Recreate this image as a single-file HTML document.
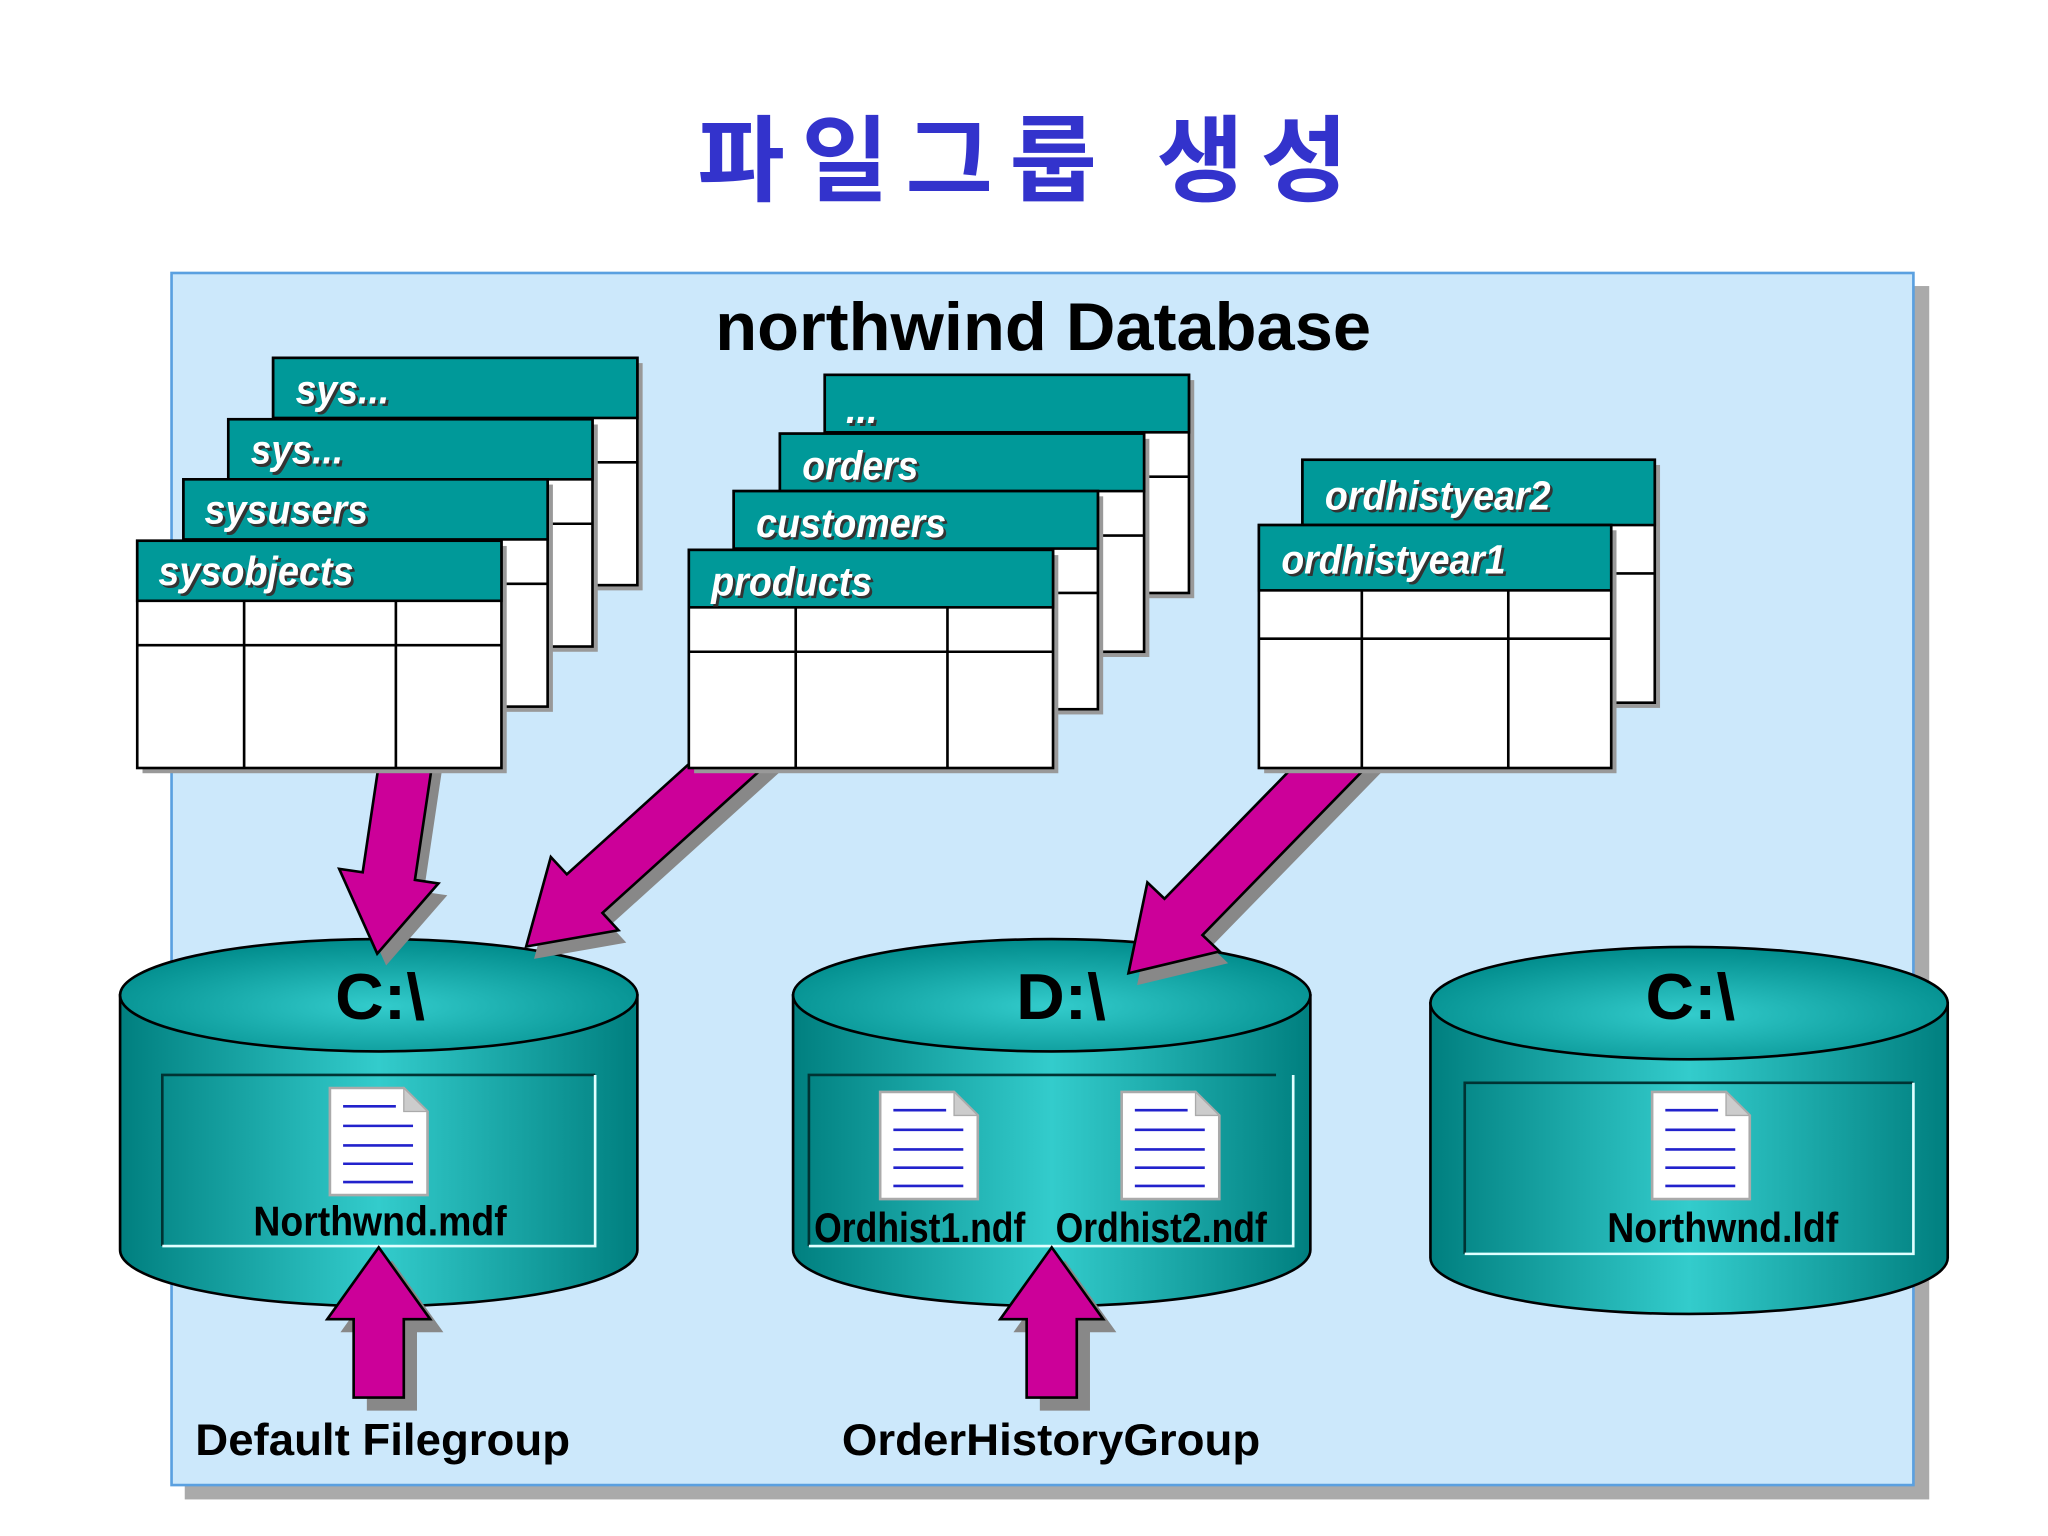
<!DOCTYPE html>
<html><head><meta charset="utf-8"><style>html,body{margin:0;padding:0;background:#fff}svg{display:block}</style></head>
<body>
<svg width="2048" height="1536" viewBox="0 0 1552 1176" preserveAspectRatio="none" xmlns="http://www.w3.org/2000/svg">
<defs>
<linearGradient id="cyl" x1="0" x2="1" y1="0" y2="0">
<stop offset="0" stop-color="#007f7f"/><stop offset="0.5" stop-color="#33cccc"/><stop offset="1" stop-color="#007f7f"/>
</linearGradient>
<radialGradient id="top" cx="0.5" cy="0.6" r="0.6">
<stop offset="0" stop-color="#33cccc"/><stop offset="1" stop-color="#008b8b"/>
</radialGradient>
<g id="doc">
<path d="M0,0 H56 L74,18 V82 H0 Z" fill="#fff" stroke="#aaa" stroke-width="2"/>
<path d="M56,0 V18 H74 Z" fill="#ccc" stroke="#aaa" stroke-width="1"/>
<g stroke="#2222cc" stroke-width="2"><line x1="10" y1="14" x2="50" y2="14"/><line x1="10" y1="29" x2="63" y2="29"/><line x1="10" y1="44" x2="63" y2="44"/><line x1="10" y1="58" x2="63" y2="58"/><line x1="10" y1="72" x2="63" y2="72"/></g>
</g>
</defs>
<style>
.hdr{font-family:"Liberation Sans",sans-serif;font-weight:bold;font-style:italic;font-size:31px;fill:#fff}
.hs{fill:#333}
.lbl{font-family:"Liberation Sans",sans-serif;font-weight:bold;font-size:32px;fill:#000}
.drv{font-family:"Liberation Sans",sans-serif;font-weight:bold;font-size:50px;fill:#000}
.bl{font-family:"Liberation Sans",sans-serif;font-weight:bold;font-size:34px;fill:#000}
</style>
<text x="775" y="148" text-anchor="middle" font-family="'Liberation Sans','Noto Sans CJK KR',sans-serif" font-weight="bold" font-size="72" fill="#3333cc" textLength="493" lengthAdjust="spacing">파일그룹 생성</text>
<rect x="140" y="219" width="1322" height="929" fill="#aaa"/>
<rect x="130" y="209" width="1320" height="928" fill="#cce8fb" stroke="#5aa0e0" stroke-width="2"/>
<text x="542" y="268" font-family="'Liberation Sans',sans-serif" font-weight="bold" font-size="52" fill="#000" textLength="497" lengthAdjust="spacingAndGlyphs">northwind Database</text>

<!-- cylinders -->
<g stroke="#000" stroke-width="2">
<path d="M91,762 V957 A196,43 0 0 0 483,957 V762 Z" fill="url(#cyl)"/>
<ellipse cx="287" cy="762" rx="196" ry="43" fill="url(#top)"/>
<path d="M601,762 V957 A196,43 0 0 0 993,957 V762 Z" fill="url(#cyl)"/>
<ellipse cx="797" cy="762" rx="196" ry="43" fill="url(#top)"/>
<path d="M1084,768 V963 A196,43 0 0 0 1476,963 V768 Z" fill="url(#cyl)"/>
<ellipse cx="1280" cy="768" rx="196" ry="43" fill="url(#top)"/>
</g>
<g fill="none" stroke-width="2">
<path d="M123,954 V823 H451" stroke="#003333"/><path d="M123,954 H451 V823" stroke="#e0ffff"/>
<path d="M613,954 V823 H967" stroke="#003333"/><path d="M613,954 H980 V823" stroke="#e0ffff"/>
<path d="M1110,960 V829 H1450" stroke="#003333"/><path d="M1110,960 H1450 V829" stroke="#e0ffff"/>
</g>
<text x="254" y="780" class="drv" textLength="68" lengthAdjust="spacingAndGlyphs">C:\</text>
<text x="770" y="780" class="drv" textLength="68" lengthAdjust="spacingAndGlyphs">D:\</text>
<text x="1247" y="780" class="drv" textLength="68" lengthAdjust="spacingAndGlyphs">C:\</text>
<use href="#doc" x="250" y="833"/>
<use href="#doc" x="667" y="836"/>
<use href="#doc" x="850" y="836"/>
<use href="#doc" x="1252" y="836"/>
<text x="192" y="946" class="lbl" textLength="192" lengthAdjust="spacingAndGlyphs">Northwnd.mdf</text>
<text x="617" y="951" class="lbl" textLength="160" lengthAdjust="spacingAndGlyphs">Ordhist1.ndf</text>
<text x="800" y="951" class="lbl" textLength="160" lengthAdjust="spacingAndGlyphs">Ordhist2.ndf</text>
<text x="1218" y="951" class="lbl" textLength="175" lengthAdjust="spacingAndGlyphs">Northwnd.ldf</text>

<!-- arrows -->
<g transform="translate(311,560) rotate(98.4)">
<polygon points="0,-20 112,-20 112,-38 172,0 112,38 112,20 0,20" fill="#888" transform="translate(8,-8)"/>
<polygon points="0,-20 112,-20 112,-38 172,0 112,38 112,20 0,20" fill="#cc0099" stroke="#000" stroke-width="2"/>
</g>
<g transform="translate(590,550) rotate(137.6)">
<polygon points="0,-20 199,-20 199,-38 259,0 199,38 199,20 0,20" fill="#888" transform="translate(2,-11)"/>
<polygon points="0,-20 199,-20 199,-38 259,0 199,38 199,20 0,20" fill="#cc0099" stroke="#000" stroke-width="2"/>
</g>
<g transform="translate(1033,561) rotate(134)">
<polygon points="0,-20 196,-20 196,-38 256,0 196,38 196,20 0,20" fill="#888" transform="translate(2,-11)"/>
<polygon points="0,-20 196,-20 196,-38 256,0 196,38 196,20 0,20" fill="#cc0099" stroke="#000" stroke-width="2"/>
</g>
<g transform="translate(287,1070) rotate(-90)">
<polygon points="0,-19 60,-19 60,-39 115,0 60,39 60,19 0,19" fill="#888" transform="translate(-10,10)"/>
<polygon points="0,-19 60,-19 60,-39 115,0 60,39 60,19 0,19" fill="#cc0099" stroke="#000" stroke-width="2"/>
</g>
<g transform="translate(797,1070) rotate(-90)">
<polygon points="0,-19 60,-19 60,-39 115,0 60,39 60,19 0,19" fill="#888" transform="translate(-10,10)"/>
<polygon points="0,-19 60,-19 60,-39 115,0 60,39 60,19 0,19" fill="#cc0099" stroke="#000" stroke-width="2"/>
</g>

<!-- left stack -->
<g stroke="#000" stroke-width="2">
<g transform="translate(207,274)"><rect x="4" y="4" width="276" height="174" fill="#999" stroke="none"/><rect width="276" height="174" fill="#fff"/><rect width="276" height="46" fill="#009999"/><line x1="0" y1="80" x2="276" y2="80"/><line x1="81" y1="46" x2="81" y2="174"/><line x1="196" y1="46" x2="196" y2="174"/></g>
<g transform="translate(173,321)"><rect x="4" y="4" width="276" height="174" fill="#999" stroke="none"/><rect width="276" height="174" fill="#fff"/><rect width="276" height="46" fill="#009999"/><line x1="0" y1="80" x2="276" y2="80"/><line x1="81" y1="46" x2="81" y2="174"/><line x1="196" y1="46" x2="196" y2="174"/></g>
<g transform="translate(139,367)"><rect x="4" y="4" width="276" height="174" fill="#999" stroke="none"/><rect width="276" height="174" fill="#fff"/><rect width="276" height="46" fill="#009999"/><line x1="0" y1="80" x2="276" y2="80"/><line x1="81" y1="46" x2="81" y2="174"/><line x1="196" y1="46" x2="196" y2="174"/></g>
<g transform="translate(104,414)"><rect x="4" y="4" width="276" height="174" fill="#999" stroke="none"/><rect width="276" height="174" fill="#fff"/><rect width="276" height="46" fill="#009999"/><line x1="0" y1="80" x2="276" y2="80"/><line x1="81" y1="46" x2="81" y2="174"/><line x1="196" y1="46" x2="196" y2="174"/></g>
</g>
<!-- middle stack -->
<g stroke="#000" stroke-width="2">
<g transform="translate(625,287)"><rect x="4" y="4" width="276" height="167" fill="#999" stroke="none"/><rect width="276" height="167" fill="#fff"/><rect width="276" height="44" fill="#009999"/><line x1="0" y1="78" x2="276" y2="78"/><line x1="81" y1="44" x2="81" y2="167"/><line x1="196" y1="44" x2="196" y2="167"/></g>
<g transform="translate(591,332)"><rect x="4" y="4" width="276" height="167" fill="#999" stroke="none"/><rect width="276" height="167" fill="#fff"/><rect width="276" height="44" fill="#009999"/><line x1="0" y1="78" x2="276" y2="78"/><line x1="81" y1="44" x2="81" y2="167"/><line x1="196" y1="44" x2="196" y2="167"/></g>
<g transform="translate(556,376)"><rect x="4" y="4" width="276" height="167" fill="#999" stroke="none"/><rect width="276" height="167" fill="#fff"/><rect width="276" height="44" fill="#009999"/><line x1="0" y1="78" x2="276" y2="78"/><line x1="81" y1="44" x2="81" y2="167"/><line x1="196" y1="44" x2="196" y2="167"/></g>
<g transform="translate(522,421)"><rect x="4" y="4" width="276" height="167" fill="#999" stroke="none"/><rect width="276" height="167" fill="#fff"/><rect width="276" height="44" fill="#009999"/><line x1="0" y1="78" x2="276" y2="78"/><line x1="81" y1="44" x2="81" y2="167"/><line x1="196" y1="44" x2="196" y2="167"/></g>
</g>
<!-- right stack -->
<g stroke="#000" stroke-width="2">
<g transform="translate(987,352)"><rect x="4" y="4" width="267" height="186" fill="#999" stroke="none"/><rect width="267" height="186" fill="#fff"/><rect width="267" height="50" fill="#009999"/><line x1="0" y1="87" x2="267" y2="87"/><line x1="78" y1="50" x2="78" y2="186"/><line x1="189" y1="50" x2="189" y2="186"/></g>
<g transform="translate(954,402)"><rect x="4" y="4" width="267" height="186" fill="#999" stroke="none"/><rect width="267" height="186" fill="#fff"/><rect width="267" height="50" fill="#009999"/><line x1="0" y1="87" x2="267" y2="87"/><line x1="78" y1="50" x2="78" y2="186"/><line x1="189" y1="50" x2="189" y2="186"/></g>
</g>
<!-- header text -->
<g class="hdr" lengthAdjust="spacingAndGlyphs">
<text x="226" y="311" class="hs" textLength="71" lengthAdjust="spacingAndGlyphs">sys...</text><text x="224" y="309" textLength="71" lengthAdjust="spacingAndGlyphs">sys...</text>
<text x="192" y="357" class="hs" textLength="70" lengthAdjust="spacingAndGlyphs">sys...</text><text x="190" y="355" textLength="70" lengthAdjust="spacingAndGlyphs">sys...</text>
<text x="157" y="403" class="hs" textLength="124" lengthAdjust="spacingAndGlyphs">sysusers</text><text x="155" y="401" textLength="124" lengthAdjust="spacingAndGlyphs">sysusers</text>
<text x="122" y="450" class="hs" textLength="148" lengthAdjust="spacingAndGlyphs">sysobjects</text><text x="120" y="448" textLength="148" lengthAdjust="spacingAndGlyphs">sysobjects</text>
<text x="643" y="326" class="hs" textLength="24" lengthAdjust="spacingAndGlyphs">...</text><text x="641" y="324" textLength="24" lengthAdjust="spacingAndGlyphs">...</text>
<text x="610" y="369" class="hs" textLength="88" lengthAdjust="spacingAndGlyphs">orders</text><text x="608" y="367" textLength="88" lengthAdjust="spacingAndGlyphs">orders</text>
<text x="575" y="413" class="hs" textLength="144" lengthAdjust="spacingAndGlyphs">customers</text><text x="573" y="411" textLength="144" lengthAdjust="spacingAndGlyphs">customers</text>
<text x="541" y="458" class="hs" textLength="122" lengthAdjust="spacingAndGlyphs">products</text><text x="539" y="456" textLength="122" lengthAdjust="spacingAndGlyphs">products</text>
<text x="1006" y="392" class="hs" textLength="171" lengthAdjust="spacingAndGlyphs">ordhistyear2</text><text x="1004" y="390" textLength="171" lengthAdjust="spacingAndGlyphs">ordhistyear2</text>
<text x="973" y="441" class="hs" textLength="170" lengthAdjust="spacingAndGlyphs">ordhistyear1</text><text x="971" y="439" textLength="170" lengthAdjust="spacingAndGlyphs">ordhistyear1</text>
</g>

<text x="148" y="1114" class="bl" textLength="284" lengthAdjust="spacingAndGlyphs">Default Filegroup</text>
<text x="638" y="1114" class="bl" textLength="317" lengthAdjust="spacingAndGlyphs">OrderHistoryGroup</text>
</svg>
</body></html>
